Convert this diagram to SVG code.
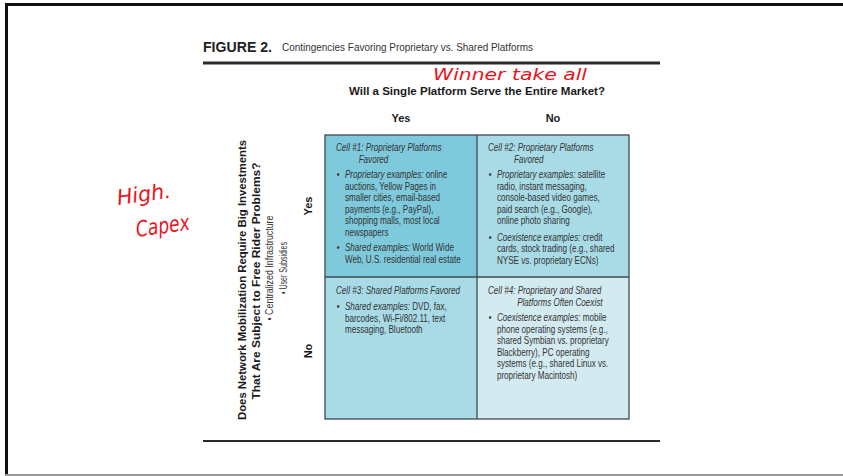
<svg xmlns="http://www.w3.org/2000/svg" width="843" height="476" viewBox="0 0 843 476">
  <style>
    .title-b { font-family: "Liberation Sans", Arial, sans-serif; font-weight: bold; fill: #222; }
    .title { font-family: "Liberation Sans", Arial, sans-serif; fill: #333; }
    .head { font-family: "Liberation Sans", Arial, sans-serif; font-weight: bold; font-size: 11px; fill: #1a1a1a; }
    .cell { font-family: "Liberation Sans", Arial, sans-serif; font-size: 10px; fill: #333; }
    .it { font-style: italic; }
    .side { font-family: "Liberation Sans", Arial, sans-serif; font-size: 10.5px; fill: #333; }
    .note { font-family: "DejaVu Sans", sans-serif; font-style: italic; fill: #e8141c; }
    .grid { stroke: #3d4a50; stroke-width: 1.3; fill: none; }
  </style>

  <rect x="0" y="0" width="843" height="476" fill="#ffffff"/>

  <!-- page frame -->
  <rect x="5" y="3" width="838" height="3" fill="#111"/>
  <rect x="5" y="3" width="3" height="473" fill="#111"/>
  <rect x="5" y="474" width="838" height="2" fill="#999"/>

  <!-- figure caption and rules -->
  <text class="title-b" x="203" y="52" font-size="14" textLength="69" lengthAdjust="spacingAndGlyphs">FIGURE 2.</text>
  <text class="title" x="282" y="51" font-size="10.5" textLength="251" lengthAdjust="spacingAndGlyphs">Contingencies Favoring Proprietary vs. Shared Platforms</text>
  <line x1="203" y1="63" x2="660" y2="63" stroke="#2a2a2a" stroke-width="3"/>
  <line x1="203" y1="441" x2="660" y2="441" stroke="#2a2a2a" stroke-width="2"/>

  <!-- column header -->
  <text class="head" x="349" y="95" textLength="256" lengthAdjust="spacingAndGlyphs">Will a Single Platform Serve the Entire Market?</text>
  <text class="head" x="401" y="122" text-anchor="middle">Yes</text>
  <text class="head" x="553" y="122" text-anchor="middle">No</text>

  <!-- row header (rotated) -->
  <g id="row-header">
    <text class="head" transform="translate(246,280) rotate(-90)" text-anchor="middle" textLength="280" lengthAdjust="spacingAndGlyphs">Does Network Mobilization Require Big Investments</text>
    <text class="head" transform="translate(260,281) rotate(-90)" text-anchor="middle" textLength="237" lengthAdjust="spacingAndGlyphs">That Are Subject to Free Rider Problems?</text>
    <text class="side" transform="translate(273,268) rotate(-90)" text-anchor="middle" textLength="105" lengthAdjust="spacingAndGlyphs">•  Centralized Infrastructure</text>
    <text class="side" transform="translate(287,268) rotate(-90)" text-anchor="middle" textLength="52" lengthAdjust="spacingAndGlyphs">•  User Subsidies</text>
    <text class="head" transform="translate(312,206) rotate(-90)" text-anchor="middle">Yes</text>
    <text class="head" transform="translate(312,351) rotate(-90)" text-anchor="middle">No</text>
  </g>

  <!-- 2x2 matrix -->
  <g id="cell1">
    <rect x="325" y="135" width="152" height="142" fill="#7fc9dc"/>
    <g transform="translate(336,0) scale(0.81,1)">
      <text class="cell it" x="0" y="151.5">Cell #1:  Proprietary Platforms</text>
      <text class="cell it" x="28" y="163">Favored</text>
      <text class="cell" x="1" y="178.5">•</text>
      <text class="cell" x="11" y="178.5"><tspan class="it">Proprietary examples:</tspan> online</text>
      <text class="cell" x="11" y="190">auctions, Yellow Pages in</text>
      <text class="cell" x="11" y="201.5">smaller cities, email-based</text>
      <text class="cell" x="11" y="213">payments (e.g., PayPal),</text>
      <text class="cell" x="11" y="224.5">shopping malls, most local</text>
      <text class="cell" x="11" y="236">newspapers</text>
      <text class="cell" x="1" y="251.5">•</text>
      <text class="cell" x="11" y="251.5"><tspan class="it">Shared examples:</tspan> World Wide</text>
      <text class="cell" x="11" y="263">Web, U.S. residential real estate</text>
    </g>
  </g>

  <g id="cell2">
    <rect x="477" y="135" width="152" height="142" fill="#a9dbe7"/>
    <g transform="translate(488,0) scale(0.81,1)">
      <text class="cell it" x="0" y="151.5">Cell #2:  Proprietary Platforms</text>
      <text class="cell it" x="32" y="163">Favored</text>
      <text class="cell" x="1" y="178.5">•</text>
      <text class="cell" x="11" y="178.5"><tspan class="it">Proprietary examples:</tspan> satellite</text>
      <text class="cell" x="11" y="190">radio, instant messaging,</text>
      <text class="cell" x="11" y="201.5">console-based video games,</text>
      <text class="cell" x="11" y="213">paid search (e.g., Google),</text>
      <text class="cell" x="11" y="224.5">online photo sharing</text>
      <text class="cell" x="1" y="241">•</text>
      <text class="cell" x="11" y="241"><tspan class="it">Coexistence examples:</tspan> credit</text>
      <text class="cell" x="11" y="252.5">cards, stock trading (e.g., shared</text>
      <text class="cell" x="11" y="264">NYSE vs. proprietary ECNs)</text>
    </g>
  </g>

  <g id="cell3">
    <rect x="325" y="277" width="152" height="142" fill="#a9dbe7"/>
    <g transform="translate(336,0) scale(0.81,1)">
      <text class="cell it" x="0" y="294.5">Cell #3:  Shared Platforms Favored</text>
      <text class="cell" x="1" y="310.5">•</text>
      <text class="cell" x="11" y="310.5"><tspan class="it">Shared examples:</tspan> DVD, fax,</text>
      <text class="cell" x="11" y="322">barcodes, Wi-Fi/802.11, text</text>
      <text class="cell" x="11" y="333.5">messaging, Bluetooth</text>
    </g>
  </g>

  <g id="cell4">
    <rect x="477" y="277" width="152" height="142" fill="#d3ebf0"/>
    <g transform="translate(488,0) scale(0.81,1)">
      <text class="cell it" x="0" y="294.5">Cell #4:  Proprietary and Shared</text>
      <text class="cell it" x="36" y="306">Platforms Often Coexist</text>
      <text class="cell" x="1" y="321.5">•</text>
      <text class="cell" x="11" y="321.5"><tspan class="it">Coexistence examples:</tspan> mobile</text>
      <text class="cell" x="11" y="333">phone operating systems (e.g.,</text>
      <text class="cell" x="11" y="344.5">shared Symbian vs. proprietary</text>
      <text class="cell" x="11" y="356">Blackberry), PC operating</text>
      <text class="cell" x="11" y="367.5">systems (e.g., shared Linux vs.</text>
      <text class="cell" x="11" y="379">proprietary Macintosh)</text>
    </g>
  </g>

  <!-- grid lines -->
  <g id="connectors">
    <rect class="grid" x="325" y="135" width="304" height="284"/>
    <line class="grid" x1="477" y1="135" x2="477" y2="419"/>
    <line class="grid" x1="325" y1="277" x2="629" y2="277"/>
  </g>

  <!-- handwritten annotations -->
  <g id="notes">
    <text class="note" x="433" y="80" font-size="16" textLength="154" lengthAdjust="spacingAndGlyphs">Winner take all</text>
    <text class="note" transform="translate(118,205) rotate(-8)" font-size="21" textLength="54" lengthAdjust="spacingAndGlyphs">High.</text>
    <text class="note" transform="translate(137,237) rotate(-8)" font-size="22" textLength="54" lengthAdjust="spacingAndGlyphs">Capex</text>
  </g>
</svg>
